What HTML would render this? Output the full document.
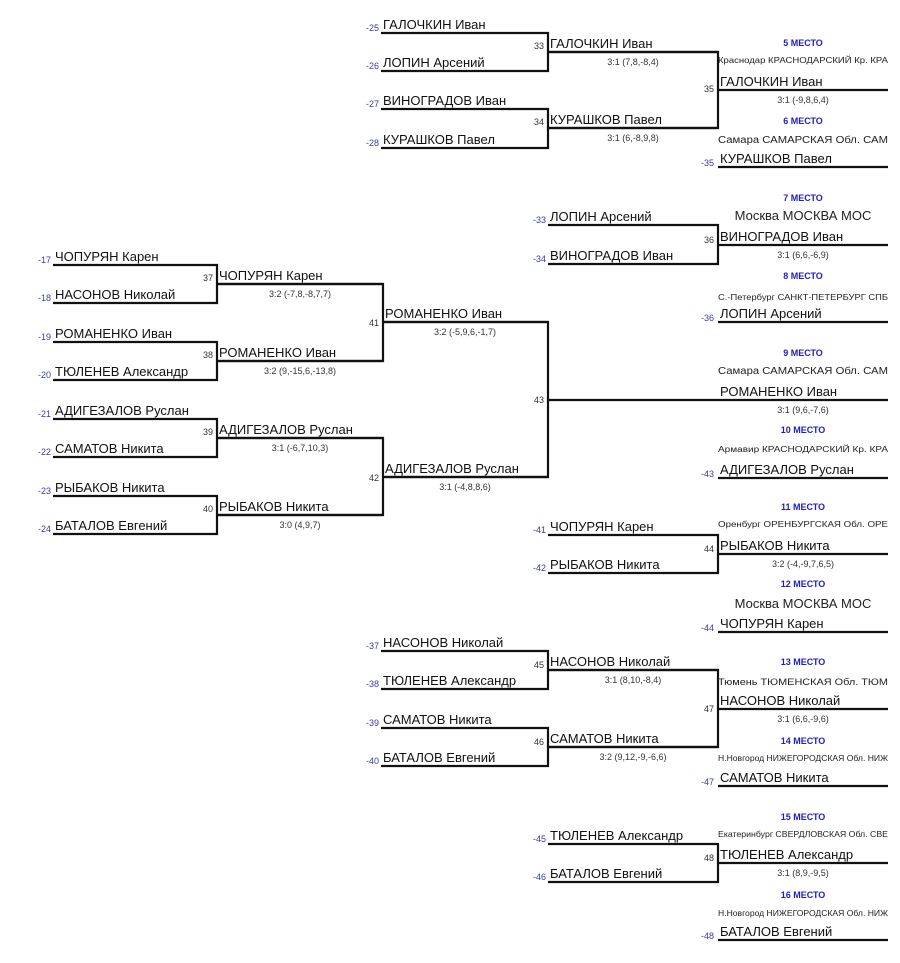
<!DOCTYPE html>
<html><head><meta charset="utf-8"><style>
html,body{margin:0;padding:0;background:#fff;}
svg{display:block;font-family:"Liberation Sans","DejaVu Sans",sans-serif;}
.n{font-size:13px;fill:#111;}
.l{font-size:9px;fill:#3a3aa8;}
.m{font-size:9px;fill:#333;}
.s{font-size:9px;fill:#333;text-anchor:middle;}
.p{font-size:9px;fill:#2020c0;font-weight:bold;text-anchor:middle;}
.c{font-size:8px;fill:#222;}
.cb{font-size:13px;fill:#222;text-anchor:middle;}
path{fill:none;stroke:#111;stroke-width:2.2;}
</style></head><body>
<svg width="900" height="963" viewBox="0 0 900 963" xmlns="http://www.w3.org/2000/svg">
<!-- lines -->
<path d="M381 33H548V71H381M548 52H718"/>
<path d="M381 109H548V148H381M548 128H718"/>
<path d="M548 52H718V128H548M718 90H888"/>
<path d="M718 167H888"/>
<path d="M548 225H718V264H548M718 245H888"/>
<path d="M718 322H888"/>
<path d="M53 265H217V303H53M217 284H383"/>
<path d="M53 342H217V380H53M217 361H383"/>
<path d="M53 419H217V457H53M217 438H383"/>
<path d="M53 496H217V534H53M217 515H383"/>
<path d="M217 284H383V361H217M383 322H548"/>
<path d="M217 438H383V515H217M383 477H548"/>
<path d="M383 322H548V477H383M548 400H888"/>
<path d="M718 478H888"/>
<path d="M548 535H718V573H548M718 554H888"/>
<path d="M718 632H888"/>
<path d="M381 651H548V689H381M548 670H718"/>
<path d="M381 728H548V766H381M548 747H718"/>
<path d="M548 670H718V747H548M718 709H888"/>
<path d="M718 786H888"/>
<path d="M548 844H718V882H548M718 863H888"/>
<path d="M718 940H888"/>

<!-- top block -->
<text class="l" x="379" y="31" text-anchor="end">-25</text><text class="n" x="383" y="29">ГАЛОЧКИН Иван</text>
<text class="l" x="379" y="69" text-anchor="end">-26</text><text class="n" x="383" y="67">ЛОПИН Арсений</text>
<text class="l" x="379" y="107" text-anchor="end">-27</text><text class="n" x="383" y="105">ВИНОГРАДОВ Иван</text>
<text class="l" x="379" y="146" text-anchor="end">-28</text><text class="n" x="383" y="144">КУРАШКОВ Павел</text>
<text class="m" x="544" y="49" text-anchor="end">33</text><text class="n" x="550" y="48">ГАЛОЧКИН Иван</text><text class="s" x="633" y="65">3:1 (7,8,-8,4)</text>
<text class="m" x="544" y="125" text-anchor="end">34</text><text class="n" x="550" y="124">КУРАШКОВ Павел</text><text class="s" x="633" y="141">3:1 (6,-8,9,8)</text>
<text class="m" x="714" y="92" text-anchor="end">35</text>
<text class="p" x="803" y="46">5 МЕСТО</text>
<text class="c" x="718" y="63" textLength="170" lengthAdjust="spacingAndGlyphs">Краснодар КРАСНОДАРСКИЙ Кр. КРА</text>
<text class="n" x="720" y="86">ГАЛОЧКИН Иван</text><text class="s" x="803" y="103">3:1 (-9,8,6,4)</text>
<text class="p" x="803" y="124">6 МЕСТО</text>
<text class="c" x="718" y="143" textLength="170" lengthAdjust="spacingAndGlyphs" style="font-size:10px">Самара САМАРСКАЯ Обл. САМ</text>
<text class="l" x="714" y="166" text-anchor="end">-35</text><text class="n" x="720" y="163">КУРАШКОВ Павел</text>

<!-- 36 -->
<text class="p" x="803" y="201">7 МЕСТО</text>
<text class="l" x="546" y="223" text-anchor="end">-33</text><text class="n" x="550" y="221">ЛОПИН Арсений</text>
<text class="cb" x="803" y="220">Москва МОСКВА МОС</text>
<text class="m" x="714" y="243" text-anchor="end">36</text><text class="n" x="720" y="241">ВИНОГРАДОВ Иван</text>
<text class="l" x="546" y="262" text-anchor="end">-34</text><text class="n" x="550" y="260">ВИНОГРАДОВ Иван</text>
<text class="s" x="803" y="258">3:1 (6,6,-6,9)</text>
<text class="p" x="803" y="279">8 МЕСТО</text>
<text class="c" x="718" y="300" textLength="170" lengthAdjust="spacingAndGlyphs">С.-Петербург САНКТ-ПЕТЕРБУРГ СПБ</text>
<text class="l" x="714" y="321" text-anchor="end">-36</text><text class="n" x="720" y="318">ЛОПИН Арсений</text>

<!-- left block -->
<text class="l" x="51" y="263" text-anchor="end">-17</text><text class="n" x="55" y="261">ЧОПУРЯН Карен</text>
<text class="l" x="51" y="301" text-anchor="end">-18</text><text class="n" x="55" y="299">НАСОНОВ Николай</text>
<text class="l" x="51" y="340" text-anchor="end">-19</text><text class="n" x="55" y="338">РОМАНЕНКО Иван</text>
<text class="l" x="51" y="378" text-anchor="end">-20</text><text class="n" x="55" y="376">ТЮЛЕНЕВ Александр</text>
<text class="l" x="51" y="417" text-anchor="end">-21</text><text class="n" x="55" y="415">АДИГЕЗАЛОВ Руслан</text>
<text class="l" x="51" y="455" text-anchor="end">-22</text><text class="n" x="55" y="453">САМАТОВ Никита</text>
<text class="l" x="51" y="494" text-anchor="end">-23</text><text class="n" x="55" y="492">РЫБАКОВ Никита</text>
<text class="l" x="51" y="532" text-anchor="end">-24</text><text class="n" x="55" y="530">БАТАЛОВ Евгений</text>
<text class="m" x="213" y="281" text-anchor="end">37</text><text class="n" x="219" y="280">ЧОПУРЯН Карен</text><text class="s" x="300" y="297">3:2 (-7,8,-8,7,7)</text>
<text class="m" x="213" y="358" text-anchor="end">38</text><text class="n" x="219" y="357">РОМАНЕНКО Иван</text><text class="s" x="300" y="374">3:2 (9,-15,6,-13,8)</text>
<text class="m" x="213" y="435" text-anchor="end">39</text><text class="n" x="219" y="434">АДИГЕЗАЛОВ Руслан</text><text class="s" x="300" y="451">3:1 (-6,7,10,3)</text>
<text class="m" x="213" y="512" text-anchor="end">40</text><text class="n" x="219" y="511">РЫБАКОВ Никита</text><text class="s" x="300" y="528">3:0 (4,9,7)</text>
<text class="m" x="379" y="326" text-anchor="end">41</text><text class="n" x="385" y="318">РОМАНЕНКО Иван</text><text class="s" x="465" y="335">3:2 (-5,9,6,-1,7)</text>
<text class="m" x="379" y="481" text-anchor="end">42</text><text class="n" x="385" y="473">АДИГЕЗАЛОВ Руслан</text><text class="s" x="465" y="490">3:1 (-4,8,8,6)</text>
<text class="m" x="544" y="403" text-anchor="end">43</text>

<!-- 43 places -->
<text class="p" x="803" y="356">9 МЕСТО</text>
<text class="c" x="718" y="374" textLength="170" lengthAdjust="spacingAndGlyphs" style="font-size:10px">Самара САМАРСКАЯ Обл. САМ</text>
<text class="n" x="720" y="396">РОМАНЕНКО Иван</text><text class="s" x="803" y="413">3:1 (9,6,-7,6)</text>
<text class="p" x="803" y="433">10 МЕСТО</text>
<text class="c" x="718" y="452" textLength="170" lengthAdjust="spacingAndGlyphs">Армавир КРАСНОДАРСКИЙ Кр. КРА</text>
<text class="l" x="714" y="477" text-anchor="end">-43</text><text class="n" x="720" y="474">АДИГЕЗАЛОВ Руслан</text>

<!-- 44 -->
<text class="p" x="803" y="510">11 МЕСТО</text>
<text class="c" x="718" y="527" textLength="170" lengthAdjust="spacingAndGlyphs">Оренбург ОРЕНБУРГСКАЯ Обл. ОРЕ</text>
<text class="l" x="546" y="533" text-anchor="end">-41</text><text class="n" x="550" y="531">ЧОПУРЯН Карен</text>
<text class="l" x="546" y="571" text-anchor="end">-42</text><text class="n" x="550" y="569">РЫБАКОВ Никита</text>
<text class="m" x="714" y="552" text-anchor="end">44</text><text class="n" x="720" y="550">РЫБАКОВ Никита</text><text class="s" x="803" y="567">3:2 (-4,-9,7,6,5)</text>
<text class="p" x="803" y="587">12 МЕСТО</text>
<text class="cb" x="803" y="608">Москва МОСКВА МОС</text>
<text class="l" x="714" y="631" text-anchor="end">-44</text><text class="n" x="720" y="628">ЧОПУРЯН Карен</text>

<!-- bottom block -->
<text class="l" x="379" y="649" text-anchor="end">-37</text><text class="n" x="383" y="647">НАСОНОВ Николай</text>
<text class="l" x="379" y="687" text-anchor="end">-38</text><text class="n" x="383" y="685">ТЮЛЕНЕВ Александр</text>
<text class="l" x="379" y="726" text-anchor="end">-39</text><text class="n" x="383" y="724">САМАТОВ Никита</text>
<text class="l" x="379" y="764" text-anchor="end">-40</text><text class="n" x="383" y="762">БАТАЛОВ Евгений</text>
<text class="m" x="544" y="668" text-anchor="end">45</text><text class="n" x="550" y="666">НАСОНОВ Николай</text><text class="s" x="633" y="683">3:1 (8,10,-8,4)</text>
<text class="m" x="544" y="745" text-anchor="end">46</text><text class="n" x="550" y="743">САМАТОВ Никита</text><text class="s" x="633" y="760">3:2 (9,12,-9,-6,6)</text>
<text class="m" x="714" y="712" text-anchor="end">47</text>
<text class="p" x="803" y="665">13 МЕСТО</text>
<text class="c" x="718" y="685" textLength="170" lengthAdjust="spacingAndGlyphs" style="font-size:9px">Тюмень ТЮМЕНСКАЯ Обл. ТЮМ</text>
<text class="n" x="720" y="705">НАСОНОВ Николай</text><text class="s" x="803" y="722">3:1 (6,6,-9,6)</text>
<text class="p" x="803" y="744">14 МЕСТО</text>
<text class="c" x="718" y="761" textLength="170" lengthAdjust="spacingAndGlyphs">Н.Новгород НИЖЕГОРОДСКАЯ Обл. НИЖ</text>
<text class="l" x="714" y="785" text-anchor="end">-47</text><text class="n" x="720" y="782">САМАТОВ Никита</text>

<!-- 48 -->
<text class="p" x="803" y="820">15 МЕСТО</text>
<text class="c" x="718" y="837" textLength="170" lengthAdjust="spacingAndGlyphs">Екатеринбург СВЕРДЛОВСКАЯ Обл. СВЕ</text>
<text class="l" x="546" y="842" text-anchor="end">-45</text><text class="n" x="550" y="840">ТЮЛЕНЕВ Александр</text>
<text class="l" x="546" y="880" text-anchor="end">-46</text><text class="n" x="550" y="878">БАТАЛОВ Евгений</text>
<text class="m" x="714" y="861" text-anchor="end">48</text><text class="n" x="720" y="859">ТЮЛЕНЕВ Александр</text><text class="s" x="803" y="876">3:1 (8,9,-9,5)</text>
<text class="p" x="803" y="898">16 МЕСТО</text>
<text class="c" x="718" y="916" textLength="170" lengthAdjust="spacingAndGlyphs">Н.Новгород НИЖЕГОРОДСКАЯ Обл. НИЖ</text>
<text class="l" x="714" y="939" text-anchor="end">-48</text><text class="n" x="720" y="936">БАТАЛОВ Евгений</text>
</svg>
</body></html>
